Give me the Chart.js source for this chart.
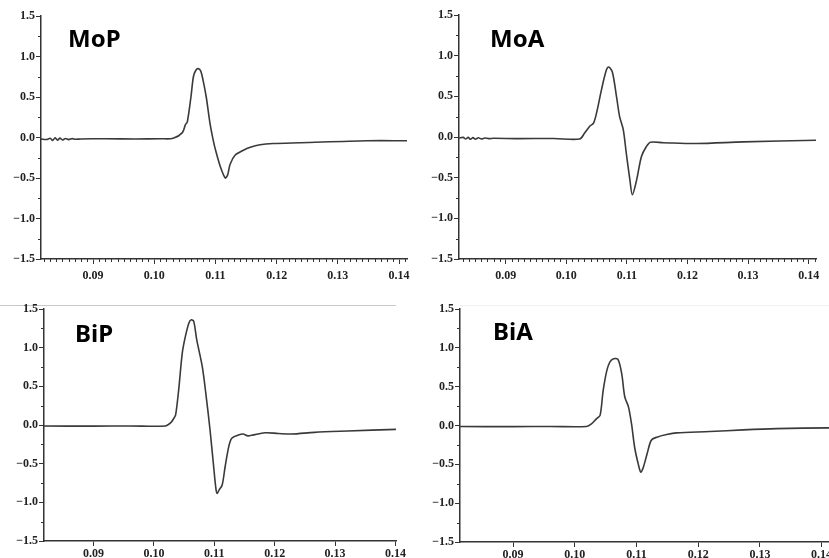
<!DOCTYPE html>
<html>
<head>
<meta charset="utf-8">
<script src="https://cdn.jsdelivr.net/npm/chart.js@4/dist/chart.umd.min.js"></script>
<style>
  html, body { margin: 0; padding: 0; background: #fff; width: 829px; height: 558px; overflow: hidden; }
  canvas { position: absolute; }
  .edge { position: absolute; height: 0; }
</style>
</head>
<body>
<div class="edge" style="left:0;top:305px;width:396px;border-top:1px solid #c8c8c8"></div>
<div class="edge" style="left:460px;top:305px;width:369px;border-top:1px solid #f0f0f0"></div>
<canvas id="c1" width="415" height="290" style="left:0;top:0"></canvas>
<canvas id="c2" width="411" height="290" style="left:418px;top:0"></canvas>
<canvas id="c3" width="415" height="290" style="left:0;top:290px"></canvas>
<canvas id="c4" width="440" height="290" style="left:410px;top:290px"></canvas>
<script>
const panelNames = ['MoP', 'MoA', 'BiP', 'BiA'];

// time (s) / amplitude
const mopX = [0.0815, 0.0824, 0.0830, 0.0834, 0.0838, 0.0842, 0.0846, 0.0850, 0.0855, 0.0860, 0.0866, 0.0871, 0.0880, 0.0920, 0.0970, 0.1010, 0.1031,
  0.1046, 0.1051, 0.1054, 0.1060, 0.1064, 0.1068, 0.1072, 0.1076, 0.1080, 0.1085, 0.1091, 0.1096, 0.1100, 0.1108, 0.1116, 0.1120, 0.1124, 0.1132, 0.1145, 0.1157, 0.1173, 0.1194, 0.1239, 0.1348, 0.1413];
const mopY = [-0.02, -0.025, -0.01, -0.035, -0.005, -0.032, -0.008, -0.03, -0.012, -0.026, -0.014, -0.022, -0.018, -0.015, -0.018, -0.015, -0.01,
  0.06, 0.16, 0.19, 0.50, 0.75, 0.83, 0.85, 0.82, 0.70, 0.50, 0.18, -0.02, -0.15, -0.36, -0.50, -0.46, -0.33, -0.22, -0.16, -0.12, -0.09, -0.075, -0.065, -0.04, -0.04];

const moaX = [0.0823, 0.0830, 0.0834, 0.0838, 0.0842, 0.0846, 0.0850, 0.0855, 0.0860, 0.0866, 0.0872, 0.0880, 0.0920, 0.0980, 0.1022,
  0.1030, 0.1039, 0.1045, 0.1051, 0.1058, 0.1066, 0.1070, 0.1076, 0.1083, 0.1088, 0.1094, 0.1099, 0.1105, 0.1109, 0.1116, 0.1124, 0.1132, 0.1139, 0.1160, 0.1215, 0.1292, 0.1412];
const moaY = [-0.012, -0.005, -0.025, -0.005, -0.028, -0.008, -0.026, -0.01, -0.024, -0.012, -0.02, -0.016, -0.02, -0.018, -0.025,
  0.045, 0.135, 0.17, 0.33, 0.58, 0.82, 0.86, 0.80, 0.49, 0.25, 0.09, -0.20, -0.53, -0.71, -0.53, -0.24, -0.12, -0.065, -0.07, -0.08, -0.06, -0.04];

const bipX = [0.0818, 0.0900, 0.0960, 0.1019, 0.1028, 0.1033, 0.1036, 0.1041, 0.1047, 0.1052, 0.1058, 0.1062, 0.1066, 0.1071, 0.1080, 0.1086, 0.1093,
  0.1099, 0.1103, 0.1105, 0.1108, 0.1113, 0.1118, 0.1124, 0.1129, 0.1140, 0.1148, 0.1156, 0.1184, 0.1206, 0.1228, 0.1266, 0.1321, 0.1401];
const bipY = [-0.013, -0.015, -0.012, -0.013, 0.03, 0.086, 0.13, 0.45, 0.93, 1.14, 1.32, 1.36, 1.34, 1.10, 0.76, 0.41, -0.065,
  -0.54, -0.84, -0.885, -0.84, -0.78, -0.54, -0.28, -0.17, -0.13, -0.117, -0.14, -0.10, -0.11, -0.117, -0.095, -0.078, -0.056];

const biaX = [0.0814, 0.0900, 0.0960, 0.1019, 0.1027, 0.1035, 0.1041, 0.1046, 0.1052, 0.1057, 0.1063, 0.1070, 0.1076, 0.1081, 0.1087, 0.1092, 0.1097,
  0.1103, 0.1107, 0.1111, 0.1117, 0.1124, 0.1133, 0.1149, 0.1165, 0.1219, 0.1273, 0.1327, 0.1412];
const biaY = [-0.013, -0.015, -0.012, -0.013, 0.02, 0.086, 0.13, 0.45, 0.71, 0.82, 0.86, 0.85, 0.67, 0.37, 0.24, 0.02, -0.28,
  -0.50, -0.60, -0.54, -0.37, -0.19, -0.15, -0.116, -0.095, -0.078, -0.056, -0.04, -0.03];

const yMin = -1.5, yMax = 1.5, yStep = 0.5, yMinor = 0.25;
const xStep = 0.01, xMinor = 0.001;

const ink = '#333';
const tickFont = { family: 'Liberation Serif', size: 12, weight: 'bold' };

// small ticks between the labelled ones
const minorTicks = {
  id: 'minorTicks',
  afterDraw(chart, args, opts) {
    const ctx = chart.ctx, a = chart.chartArea;
    const xs = chart.scales.x, ys = chart.scales.y;
    ctx.save();
    ctx.strokeStyle = ink;
    ctx.lineWidth = 1;
    ctx.beginPath();
    for (let v = Math.ceil(yMin / yMinor) * yMinor; v <= yMax + 1e-9; v += yMinor) {
      if (Math.abs(v / yStep - Math.round(v / yStep)) < 1e-6) continue;
      const p = Math.round(ys.getPixelForValue(v)) + 0.5;
      ctx.moveTo(a.left, p); ctx.lineTo(a.left - 3, p);
    }
    if (opts.x) {
      const k0 = Math.ceil(xs.min / xMinor), k1 = Math.floor(xs.max / xMinor);
      for (let k = k0; k <= k1; k++) {
        if (k % 10 === 0) continue;
        const p = Math.round(xs.getPixelForValue(k * xMinor)) + 0.5;
        ctx.moveTo(p, a.bottom); ctx.lineTo(p, a.bottom + 3);
      }
    }
    ctx.stroke();
    ctx.restore();
  }
};

const panelLabel = {
  id: 'panelLabel',
  afterDraw(chart, args, opts) {
    const ctx = chart.ctx, a = chart.chartArea;
    ctx.save();
    ctx.fillStyle = '#000';
    ctx.font = 'bold 24px "Noto Sans"';
    ctx.textBaseline = 'alphabetic';
    ctx.fillText(opts.text, a.left + opts.dx, a.top + opts.dy);
    ctx.restore();
  }
};

function makeChart(id, xs, ys, name, c) {
  const ctx = document.getElementById(id).getContext('2d');
  return new Chart(ctx, {
    type: 'line',
    data: {
      datasets: [{
        data: xs.map((x, i) => ({ x: x, y: ys[i] })),
        borderColor: '#3a3a3a',
        borderWidth: 1.6,
        pointRadius: 0,
        tension: 0.3,
        fill: false
      }]
    },
    options: {
      responsive: false,
      animation: false,
      events: [],
      layout: { padding: c.padding },
      plugins: {
        legend: { display: false },
        tooltip: { enabled: false },
        minorTicks: { x: c.minorX },
        panelLabel: { text: name, dx: c.dx, dy: c.dy }
      },
      scales: {
        x: {
          type: 'linear',
          min: c.xMin,
          max: c.xMax,
          afterFit: s => { s.height = c.xAxisH; },
          border: { color: ink, width: 1.5 },
          grid: { drawOnChartArea: false, color: ink, tickLength: 5, tickWidth: 1 },
          ticks: {
            stepSize: xStep,
            includeBounds: false,
            maxRotation: 0,
            padding: c.xPad,
            color: '#222',
            font: tickFont,
            callback: v => v.toFixed(2)
          }
        },
        y: {
          min: yMin,
          max: yMax,
          afterFit: s => { s.width = c.yAxisW; },
          border: { color: ink, width: 1.5 },
          grid: { drawOnChartArea: false, color: ink, tickLength: 5, tickWidth: 1 },
          ticks: {
            stepSize: yStep,
            padding: 1,
            color: '#222',
            font: tickFont,
            callback: v => (v < 0 ? '\u2212' : '') + Math.abs(v).toFixed(1)
          }
        }
      }
    },
    plugins: [minorTicks, panelLabel]
  });
}

makeChart('c1', mopX, mopY, panelNames[0], {
  xMin: 0.0815, xMax: 0.1413, yAxisW: 41, xAxisH: 31, xPad: 5, minorX: true,
  padding: { top: 16, right: 8, bottom: 0, left: 0 }, dx: 27, dy: 31
});
makeChart('c2', moaX, moaY, panelNames[1], {
  xMin: 0.0823, xMax: 0.1412, yAxisW: 41, xAxisH: 31, xPad: 5, minorX: true,
  padding: { top: 15, right: 13, bottom: 0, left: 0 }, dx: 31, dy: 32
});
makeChart('c3', bipX, bipY, panelNames[2], {
  xMin: 0.0818, xMax: 0.1401, yAxisW: 44, xAxisH: 39, xPad: 1, minorX: false,
  padding: { top: 19, right: 19, bottom: 0, left: 0 }, dx: 31, dy: 33
});
makeChart('c4', biaX, biaY, panelNames[3], {
  xMin: 0.0814, xMax: 0.1412, yAxisW: 50, xAxisH: 38, xPad: 1, minorX: false,
  padding: { top: 19, right: 21, bottom: 0, left: 0 }, dx: 33, dy: 31
});
</script>
</body>
</html>
